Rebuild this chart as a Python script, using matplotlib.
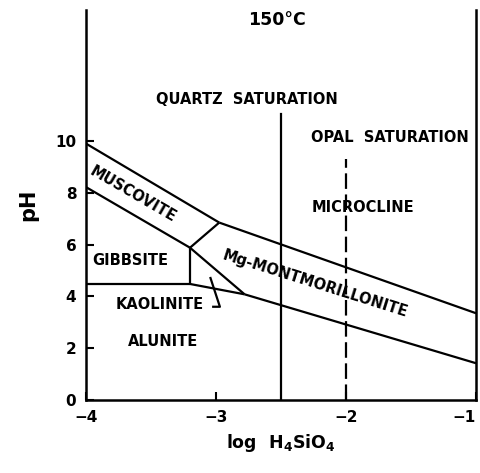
import matplotlib
matplotlib.use("Agg")
import matplotlib.pyplot as plt

plt.rcParams['font.family'] = ['DejaVu Sans']
plt.rcParams['font.weight'] = 'bold'
plt.rcParams['mathtext.fontset'] = 'dejavusans'
plt.rcParams['mathtext.default'] = 'bf'

# Boundary lines (log H4SiO4, pH)
muscovite_upper_x = [-4.0, -2.975]
muscovite_upper_y = [9.9, 6.85]
microcline_mont_x = [-2.975, -1.0]
microcline_mont_y = [6.85, 3.35]
muscovite_lower_x = [-4.0, -3.2]
muscovite_lower_y = [8.22, 5.88]
muscovite_mont_x = [-3.2, -2.975]
muscovite_mont_y = [5.88, 6.85]
gibbsite_kaol_x = [-3.2, -3.2]
gibbsite_kaol_y = [5.88, 4.48]
gibbsite_alunite_x = [-4.0, -3.2]
gibbsite_alunite_y = [4.48, 4.48]
kaol_alunite_x = [-3.2, -2.78]
kaol_alunite_y = [4.48, 4.08]
kaol_mont_x = [-3.2, -2.78]
kaol_mont_y = [5.88, 4.08]
mont_alunite_x = [-2.78, -1.0]
mont_alunite_y = [4.08, 1.42]
kaol_pointer_x = [-3.045, -2.97, -3.03]
kaol_pointer_y = [4.75, 3.6, 3.6]

quartz_x = -2.5
quartz_top = 11.05
opal_x = -2.0
opal_top = 9.3

x_ticks = [-4, -3, -2, -1]
x_tick_labels = ['\u22124', '\u22123', '\u22122', '\u22121']
y_ticks = [0, 2, 4, 6, 8, 10]

fig = plt.figure(figsize=(4.81, 4.73), dpi=100)
ax = fig.add_axes([86/481, 1 - 400/473, (476-86)/481, 390/473])
ax.set_xlim(-4, -1)
ax.set_ylim(0, 390/25.9)

lw = 1.6
for xs, ys in [(muscovite_upper_x, muscovite_upper_y),
               (microcline_mont_x, microcline_mont_y),
               (muscovite_lower_x, muscovite_lower_y),
               (muscovite_mont_x, muscovite_mont_y),
               (gibbsite_kaol_x, gibbsite_kaol_y),
               (gibbsite_alunite_x, gibbsite_alunite_y),
               (kaol_alunite_x, kaol_alunite_y),
               (kaol_mont_x, kaol_mont_y),
               (mont_alunite_x, mont_alunite_y),
               (kaol_pointer_x, kaol_pointer_y)]:
    ax.plot(xs, ys, color='black', lw=lw, solid_capstyle='butt')

ax.plot([quartz_x, quartz_x], [0, quartz_top], color='black', lw=lw)
ax.plot([opal_x, opal_x], [0, opal_top], color='black', lw=lw,
        linestyle=(0, (7, 2.5)))

for s in ['left', 'right', 'bottom']:
    ax.spines[s].set_linewidth(1.8)
ax.spines['top'].set_visible(False)

ax.set_xticks(x_ticks)
ax.set_xticklabels(x_tick_labels)
ax.set_yticks(y_ticks)
ax.tick_params(direction='in', length=6, width=1.5, labelsize=11, pad=7)
for lab in ax.get_xticklabels() + ax.get_yticklabels():
    lab.set_fontweight('bold')
xl = ax.get_xticklabels()
xl[-1].set_horizontalalignment('right')

ax.set_xlabel('log  H$_4$SiO$_4$', fontsize=12.5, fontweight='bold', labelpad=5)
ax.set_ylabel('pH', fontsize=15, fontweight='bold', labelpad=12)

tk = dict(fontsize=10.5, fontweight='bold', ha='center', va='center')
ax.text(-2.53, 14.67, '150\u00b0C', fontsize=12.5, fontweight='bold', ha='center', va='center')
ax.text(-2.76, 11.6, 'QUARTZ  SATURATION', **tk)
ax.text(-1.66, 10.15, 'OPAL  SATURATION', **tk)
ax.text(-1.87, 7.45, 'MICROCLINE', **tk)
ax.text(-2.24, 4.5, 'Mg-MONTMORILLONITE', rotation=-17.5,
        rotation_mode='anchor', **tk)
ax.text(-3.64, 7.95, 'MUSCOVITE', rotation=-30, rotation_mode='anchor', **tk)
ax.text(-3.66, 5.4, 'GIBBSITE', **tk)
ax.text(-3.43, 3.67, 'KAOLINITE', **tk)
ax.text(-3.41, 2.24, 'ALUNITE', **tk)

fig.savefig('out.png', dpi=100)
